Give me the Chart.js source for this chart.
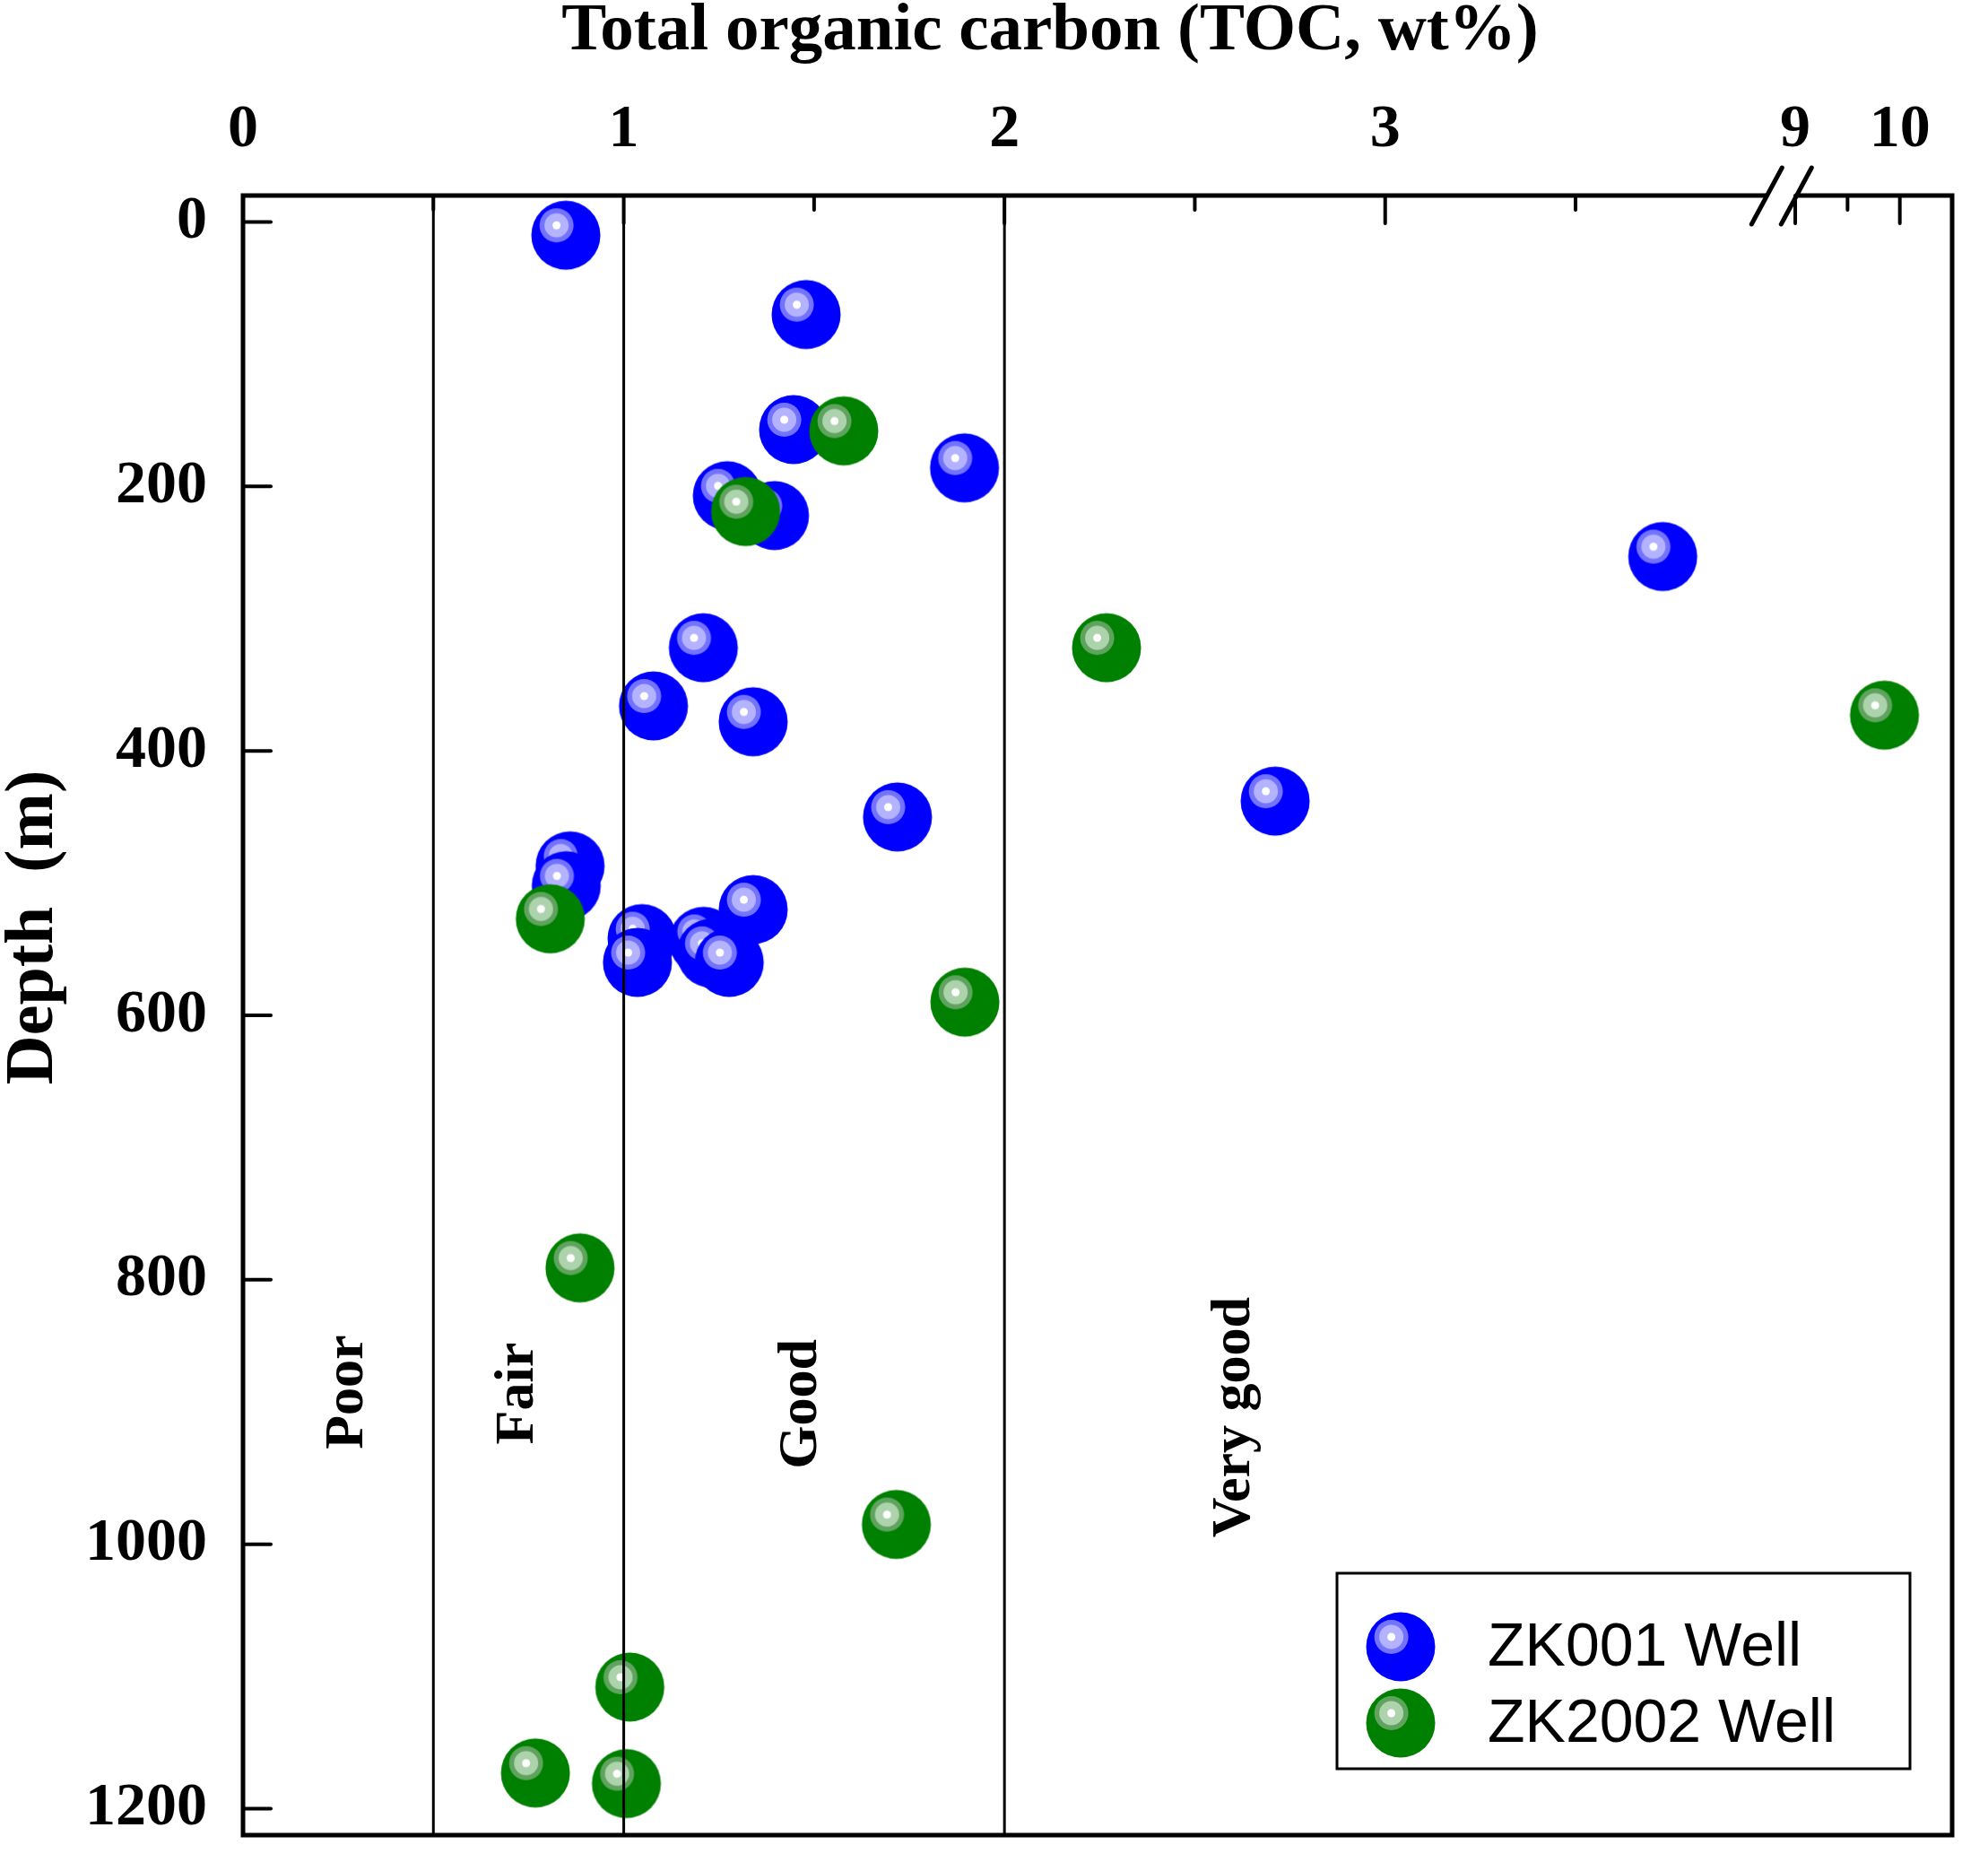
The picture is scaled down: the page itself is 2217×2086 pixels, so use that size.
<!DOCTYPE html>
<html>
<head>
<meta charset="utf-8">
<script src="https://cdn.jsdelivr.net/npm/chart.js@4.4.0/dist/chart.umd.min.js"></script>
<style>
  html, body { margin: 0; padding: 0; background: #fff; }
  canvas { display: block; }
</style>
</head>
<body>
<canvas id="tocChart" width="2217" height="2086"></canvas>
<script>
// ZK001 well samples, TOC in wt% and depth in m (sorted by depth)
const zk001Toc = [0.848, 1.479, 1.446, 1.895, 1.272, 1.396, 3.729, 1.209, 1.078, 1.340, 2.711, 1.719, 0.859, 0.849, 1.340, 1.048, 1.210, 1.230, 1.036, 1.277];
const zk001Depth = [10, 70, 157, 186, 207, 222, 253, 322, 366, 378, 438, 450, 487, 502, 520, 542, 544, 553, 560, 560];

// ZK2002 well samples
const zk2002Toc = [1.578, 1.320, 2.268, 9.853, 0.807, 1.896, 0.885, 1.716, 1.016, 0.768, 1.007];
const zk2002Depth = [158, 219, 322, 373, 527, 590, 791, 985, 1108, 1173, 1181];

// axis ticks, the x axis is broken between 4.04 and 8.865
const tocTicksLow = [0, 1, 2, 3];
const tocMinorLow = [0.5, 1.5, 2.5, 3.5];
const tocTicksHigh = [9, 10];
const tocMinorHigh = [9.5];
const depthTicks = [0, 200, 400, 600, 800, 1000, 1200];

// source rock grade boundaries (wt%) and their labels
const classBounds = [0.5, 1, 2];
const classNames = ["Poor", "Fair", "Good", "Very good"];
const classLabelToc = [0.275, 0.722, 1.468, 2.606];
const classLabelDepth = [885, 886, 894, 904];

const SERIF = '"Liberation Serif", "Times New Roman", serif';
const SANS = '"Liberation Sans", Arial, sans-serif';

// shaded ball marker like the Origin "sphere" symbol
function makeBall(base, ring, inner) {
  const c = document.createElement("canvas");
  c.width = 80;
  c.height = 80;
  const g = c.getContext("2d");
  const disc = (x, y, r, col) => {
    g.beginPath();
    g.arc(x, y, r, 0, Math.PI * 2);
    g.fillStyle = col;
    g.fill();
  };
  disc(40, 40, 38.5, base);
  disc(29.6, 29, 19, ring);
  disc(29.6, 29, 13.5, inner);
  disc(29.6, 29, 4.5, "#ffffff");
  return c;
}

const wells = [
  { label: "ZK001 Well", toc: zk001Toc, depth: zk001Depth, ball: makeBall("#0000ff", "#7373ff", "#b3b3ff"), order: 2 },
  { label: "ZK2002 Well", toc: zk2002Toc, depth: zk2002Depth, ball: makeBall("#008000", "#5fa35f", "#acd3ac"), order: 1 },
];

const LOW_MAX = 4.04;
const HIGH_MIN = 8.865;

const datasets = [];
wells.forEach((w) => {
  const pts = w.toc.map((t, i) => ({ x: t, y: w.depth[i] }));
  const low = pts.filter((p) => p.x <= LOW_MAX);
  const high = pts.filter((p) => p.x >= HIGH_MIN);
  [["x1", low], ["x2", high]].forEach(([axisId, data]) => {
    if (!data.length) return;
    datasets.push({
      label: w.label,
      data: data,
      xAxisID: axisId,
      yAxisID: "y",
      pointStyle: w.ball,
      pointRadius: 39,
      order: w.order,
    });
  });
});

classBounds.forEach((b) => {
  datasets.push({
    label: "bound",
    data: [{ x: b, y: -20 }, { x: b, y: 1220 }],
    xAxisID: "x1",
    yAxisID: "y",
    showLine: true,
    borderColor: "#000",
    borderWidth: 3,
    pointRadius: 0,
    order: 0,
  });
});

const tickFont = { family: SERIF, size: 68, weight: "bold" };

function fixTicks(values) {
  return (scale) => {
    scale.ticks = values.map((v) => ({ value: v }));
  };
}

function noPad(scale) {
  scale.paddingLeft = 0;
  scale.paddingRight = 0;
  scale.paddingTop = 0;
  scale.paddingBottom = 0;
}

// both top axes share one stack, weight puts the low range on the left
const topAxis = (min, max, share, boxWeight, ticks) => ({
  type: "linear",
  position: "top",
  stack: "toc",
  stackWeight: share,
  weight: boxWeight,
  min: min,
  max: max,
  grid: { display: false, drawTicks: false, tickLength: 0 },
  border: { display: false },
  ticks: {
    font: tickFont,
    color: "#000",
    padding: 32,
    autoSkip: false,
    maxRotation: 0,
    minRotation: 0,
    callback: (v) => String(v),
  },
  afterBuildTicks: fixTicks(ticks),
  afterFit: (scale) => {
    scale.height = 218;
    noPad(scale);
  },
});

const line = (ctx, xa, ya, xb, yb) => {
  ctx.beginPath();
  ctx.moveTo(xa, ya);
  ctx.lineTo(xb, yb);
  ctx.stroke();
};

// frame, inward ticks, axis break, titles, grade labels and legend
const tocDecor = {
  id: "tocDecor",
  afterDraw(chart) {
    const { ctx, chartArea: a, scales } = chart;
    const { x1, x2, y } = scales;
    ctx.save();
    ctx.strokeStyle = "#000";
    ctx.fillStyle = "#000";

    // ticks
    ctx.lineWidth = 4;
    ctx.lineCap = "round";
    depthTicks.forEach((v) => {
      const py = y.getPixelForValue(v);
      line(ctx, a.left, py, a.left + 31, py);
    });
    tocTicksLow.forEach((v) => {
      const px = x1.getPixelForValue(v);
      line(ctx, px, a.top, px, a.top + 31);
    });
    tocTicksHigh.forEach((v) => {
      const px = x2.getPixelForValue(v);
      line(ctx, px, a.top, px, a.top + 31);
    });
    tocMinorLow.forEach((v) => {
      const px = x1.getPixelForValue(v);
      line(ctx, px, a.top, px, a.top + 16);
    });
    tocMinorHigh.forEach((v) => {
      const px = x2.getPixelForValue(v);
      line(ctx, px, a.top, px, a.top + 16);
    });

    // frame with a gap at the break
    const bx = x2.left;
    ctx.lineWidth = 5;
    ctx.lineCap = "butt";
    ctx.lineJoin = "miter";
    ctx.beginPath();
    ctx.moveTo(bx - 16, a.top);
    ctx.lineTo(a.left, a.top);
    ctx.lineTo(a.left, a.bottom);
    ctx.lineTo(a.right, a.bottom);
    ctx.lineTo(a.right, a.top);
    ctx.lineTo(bx + 17, a.top);
    ctx.stroke();

    // break marks
    ctx.lineCap = "round";
    [bx - 16, bx + 17].forEach((cx) => {
      line(ctx, cx - 17, a.top + 32, cx + 17, a.top - 31);
    });

    // axis titles
    ctx.font = "bold 75px " + SERIF;
    ctx.textAlign = "center";
    ctx.textBaseline = "alphabetic";
    ctx.fillText("Total organic carbon (TOC, wt%)", 1171, 55);

    ctx.save();
    ctx.translate(38, 1034);
    ctx.rotate(-Math.PI / 2);
    ctx.font = "bold 76px " + SERIF;
    ctx.textBaseline = "middle";
    ctx.fillText("Depth  (m)", 0, 0);
    ctx.restore();

    // grade labels
    ctx.font = "bold 62px " + SERIF;
    ctx.textBaseline = "middle";
    classNames.forEach((name, i) => {
      ctx.save();
      ctx.translate(x1.getPixelForValue(classLabelToc[i]), y.getPixelForValue(classLabelDepth[i]));
      ctx.rotate(-Math.PI / 2);
      ctx.fillText(name, 0, 0);
      ctx.restore();
    });

    // legend
    const lx = a.right - 686;
    const ly = a.bottom - 292;
    ctx.lineWidth = 3;
    ctx.strokeRect(lx, ly, 639, 218);
    ctx.font = "68px " + SANS;
    ctx.textAlign = "left";
    wells.forEach((w, i) => {
      const cy = ly + 82 + i * 85;
      ctx.drawImage(w.ball, lx + 71 - 40, cy - 40, 80, 80);
      ctx.fillText(w.label, lx + 168, cy + 2);
    });

    ctx.restore();
  },
};

new Chart(document.getElementById("tocChart"), {
  type: "scatter",
  data: { datasets: datasets },
  options: {
    responsive: false,
    animation: false,
    devicePixelRatio: 1,
    layout: { padding: { left: 0, top: 0, right: 7, bottom: 12 } },
    plugins: {
      legend: { display: false },
      tooltip: { enabled: false },
    },
    scales: {
      x1: topAxis(0, LOW_MAX, 1745, 1, tocTicksLow),
      x2: topAxis(HIGH_MIN, 10.5, 194, 0, tocTicksHigh),
      y: {
        type: "linear",
        position: "left",
        reverse: true,
        min: -20,
        max: 1220,
        grid: { display: false, drawTicks: false, tickLength: 0 },
        border: { display: false },
        ticks: {
          font: tickFont,
          color: "#000",
          padding: 40,
          autoSkip: false,
          callback: (v) => String(v),
        },
        afterBuildTicks: fixTicks(depthTicks),
        afterFit: (scale) => {
          scale.width = 271;
          noPad(scale);
        },
      },
    },
  },
  plugins: [tocDecor],
});
</script>
</body>
</html>
